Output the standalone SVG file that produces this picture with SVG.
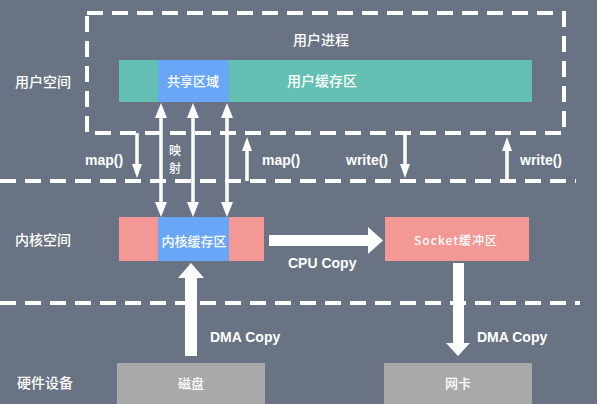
<svg xmlns="http://www.w3.org/2000/svg" width="597" height="404" viewBox="0 0 597 404">
<style>
.dash{fill:none;stroke:#fff;stroke-width:4;stroke-dasharray:16 9}
.ln{fill:none;stroke:#fff;stroke-width:3.5}
.ah{fill:#fff}
.lbl{font-family:"Noto Sans CJK SC","Liberation Sans",sans-serif;font-size:14px;fill:#fff;font-weight:500}
.in{font-family:"Noto Sans CJK SC","Liberation Sans",sans-serif;font-size:13px;fill:#fff;text-anchor:middle;font-weight:500}
.en{font-family:"Liberation Sans","Noto Sans",sans-serif;font-size:14px;fill:#fff;font-weight:bold}
</style>
<rect width="597" height="404" fill="#697383"/>
<g id="layers">
<line class="dash" x1="0" y1="181" x2="576" y2="181"/>
<line class="dash" x1="0" y1="303" x2="580" y2="303"/>
<text class="lbl" x="15" y="87">用户空间</text>
<text class="lbl" x="15" y="245">内核空间</text>
<text class="lbl" x="17" y="388">硬件设备</text>
</g>
<g id="user-process">
<rect class="dash" x="87" y="13" width="477" height="120"/>
<text class="lbl" x="321" y="45" text-anchor="middle">用户进程</text>
</g>
<g id="user-buffer">
<rect x="119" y="60" width="413" height="42" fill="#63bfb1"/>
<text class="lbl" x="322" y="86" text-anchor="middle">用户缓存区</text>
</g>
<g id="shared-region">
<rect x="158" y="60" width="71" height="42" fill="#6aa6f8"/>
<text class="in" x="193" y="86">共享区域</text>
</g>
<g id="kernel-space-bar">
<rect x="119" y="217" width="145" height="44" fill="#f39895"/>
</g>
<g id="kernel-buffer">
<rect x="158" y="217" width="71" height="44" fill="#6aa6f8"/>
<text class="in" x="194" y="246">内核缓存区</text>
</g>
<g id="socket-buffer">
<rect x="385" y="217" width="144" height="44" fill="#f39895"/>
<text class="in" x="456" y="245" style="font-size:12px;letter-spacing:1px">Socket缓冲区</text>
</g>
<g id="disk">
<rect x="117" y="363" width="148" height="45" fill="#a9a9a9"/>
<text class="in" x="191" y="388">磁盘</text>
</g>
<g id="nic">
<rect x="384" y="363" width="148" height="45" fill="#a9a9a9"/>
<text class="in" x="458" y="388">网卡</text>
</g>
<g id="connectors">
<!-- mapping double arrows -->
<line class="ln" x1="161" y1="115" x2="161" y2="205"/>
<polygon class="ah" points="161,103 155,118 167,118"/>
<polygon class="ah" points="161,217 155,202 167,202"/>
<line class="ln" x1="193" y1="115" x2="193" y2="205"/>
<polygon class="ah" points="193,103 187,118 199,118"/>
<polygon class="ah" points="193,217 187,202 199,202"/>
<line class="ln" x1="227" y1="115" x2="227" y2="205"/>
<polygon class="ah" points="227,103 221,118 233,118"/>
<polygon class="ah" points="227,217 221,202 233,202"/>
<text class="in" x="175" y="155" style="font-size:12px">映</text>
<text class="in" x="175" y="173" style="font-size:12px">射</text>
<!-- map() / write() small arrows -->
<line class="ln" x1="137" y1="133" x2="137" y2="165"/>
<polygon class="ah" points="137,178 132,164 142,164"/>
<line class="ln" x1="247" y1="148" x2="247" y2="181"/>
<polygon class="ah" points="247,137 242,151 252,151"/>
<line class="ln" x1="405" y1="133" x2="405" y2="165"/>
<polygon class="ah" points="405,178 400,164 410,164"/>
<line class="ln" x1="507" y1="148" x2="507" y2="181"/>
<polygon class="ah" points="507,137 502,151 512,151"/>
<text class="en" x="85" y="165">map()</text>
<text class="en" x="262" y="165">map()</text>
<text class="en" x="346" y="165">write()</text>
<text class="en" x="520" y="165">write()</text>
<!-- CPU copy -->
<rect x="269" y="235" width="101" height="11" fill="#fff"/>
<polygon class="ah" points="383,240.5 368,227 368,254"/>
<text class="en" x="288" y="268">CPU Copy</text>
<!-- DMA copy up -->
<rect x="185" y="276" width="12" height="80" fill="#fff"/>
<polygon class="ah" points="191,263 178,278 204,278"/>
<text class="en" x="210" y="342">DMA Copy</text>
<!-- DMA copy down -->
<rect x="453" y="263" width="11" height="82" fill="#fff"/>
<polygon class="ah" points="458,356 446,343 470,343"/>
<text class="en" x="477" y="342">DMA Copy</text>
</g>
</svg>
